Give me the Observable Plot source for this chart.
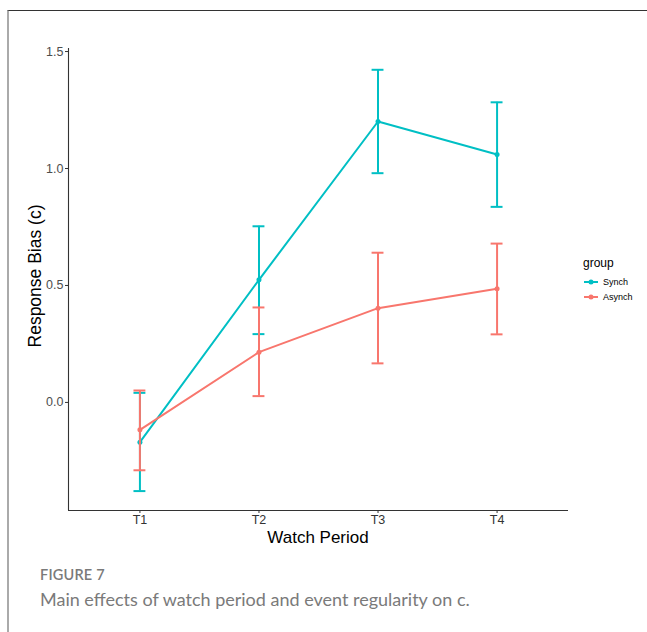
<!DOCTYPE html>
<html><head><meta charset="utf-8">
<script src="https://cdn.jsdelivr.net/npm/d3@7"></script>
<script src="https://cdn.jsdelivr.net/npm/@observablehq/plot@0.6"></script>
<style>
body{margin:0;background:#fff;}
#wrap{position:relative;width:647px;height:632px;overflow:hidden;font-family:"Liberation Sans",Arial,sans-serif;background:#fff;}
#frame{position:absolute;left:7px;top:10px;right:-2px;bottom:-2px;border-top:1px solid #333;border-left:2px solid #aaa;}
#chart{position:absolute;left:0;top:0;}
#ylab{position:absolute;left:35px;top:276px;transform:translate(-50%,-50%) rotate(-90deg);font-size:17.5px;color:#000;white-space:nowrap;}
#xlab{position:absolute;left:318px;top:538px;transform:translate(-50%,-50%);font-size:17px;color:#000;white-space:nowrap;}
#legend{position:absolute;left:583px;top:256px;font-size:9px;color:#000;}
#legend .title{font-size:12px;margin-bottom:4px;}
#legend .row{display:flex;align-items:center;height:15px;}
#legend svg{margin-right:4px;}
#fig{position:absolute;left:40px;top:566px;font-family:Lato,"Open Sans",sans-serif;font-size:14.5px;font-weight:600;color:#7a7a7a;letter-spacing:0.2px;}
#cap{position:absolute;left:40px;top:588px;font-family:Lato,"Open Sans",sans-serif;font-size:18px;font-weight:400;color:#7a7a7a;white-space:nowrap;}
</style></head><body>
<div id="wrap">
<div id="frame"></div>
<div id="chart"></div>
<div id="ylab">Response Bias (c)</div>
<div id="xlab">Watch Period</div>
<div id="legend"></div>
<div id="fig">FIGURE 7</div>
<div id="cap">Main effects of watch period and event regularity on c.</div>
</div>
<script>
const periods = ["T1", "T2", "T3", "T4"];
const groups = ["Synch", "Asynch"];
const synchMean  = [-0.170, 0.524, 1.201, 1.060];
const synchLower = [-0.379, 0.292, 0.980, 0.836];
const synchUpper = [ 0.041, 0.753, 1.422, 1.283];
const asynchMean  = [-0.117, 0.215, 0.403, 0.486];
const asynchLower = [-0.290, 0.027, 0.167, 0.291];
const asynchUpper = [ 0.051, 0.406, 0.640, 0.679];
const yTicks = [0, 0.5, 1.0, 1.5];
const colors = ["#00BFC4", "#F8766D"];

const xDomain = [0.4, 4.6];
const yDomain = [-0.462, 1.513];
const capHalf = 0.05;

const series = {
  Synch: {mean: synchMean, lower: synchLower, upper: synchUpper},
  Asynch: {mean: asynchMean, lower: asynchLower, upper: asynchUpper}
};
const rowsFor = g => periods.map((p, i) => ({
  group: g, period: p, xi: i + 1,
  mean: series[g].mean[i], lower: series[g].lower[i], upper: series[g].upper[i]
}));

const groupMarks = groups.flatMap(g => {
  const rows = rowsFor(g);
  return [
    Plot.ruleX(rows, {x: "xi", y1: "lower", y2: "upper", stroke: "group", strokeWidth: 2}),
    Plot.ruleY(rows, {y: "upper", x1: d => d.xi - capHalf, x2: d => d.xi + capHalf, stroke: "group", strokeWidth: 2}),
    Plot.ruleY(rows, {y: "lower", x1: d => d.xi - capHalf, x2: d => d.xi + capHalf, stroke: "group", strokeWidth: 2}),
    Plot.line(rows, {x: "xi", y: "mean", stroke: "group", strokeWidth: 2}),
    Plot.dot(rows, {x: "xi", y: "mean", fill: "group", r: 2.5})
  ];
});

const chart = Plot.plot({
  width: 647, height: 550,
  marginLeft: 68, marginRight: 79, marginTop: 48, marginBottom: 40,
  style: {fontFamily: '"Liberation Sans", Arial, sans-serif', background: "transparent"},
  x: {type: "linear", domain: xDomain, axis: null},
  y: {domain: yDomain, axis: null},
  color: {domain: groups, range: colors},
  marks: [
    Plot.axisY({ticks: yTicks, tickFormat: d3.format(".1f"), tickSize: 3, tickPadding: 2, fontSize: 12.5, stroke: "#333", fill: "#4d4d4d", label: null}),
    Plot.axisX({ticks: [1, 2, 3, 4], tickFormat: i => periods[i - 1], tickSize: 3, tickPadding: 2, fontSize: 12.5, stroke: "#333", fill: "#333", label: null}),
    Plot.ruleX([xDomain[0]], {stroke: "#333", strokeWidth: 1.1}),
    Plot.ruleY([yDomain[0]], {stroke: "#333", strokeWidth: 1.1}),
    ...groupMarks
  ]
});
document.getElementById("chart").appendChild(chart);

const legend = document.getElementById("legend");
legend.innerHTML = '<div class="title">group</div>' + groups.map((g, i) =>
  `<div class="row"><svg width="16" height="10"><line x1="1" x2="15" y1="5" y2="5" stroke="${colors[i]}" stroke-width="2"/><circle cx="8" cy="5" r="2.5" fill="${colors[i]}"/></svg><span>${g}</span></div>`
).join("");
</script>
</body></html>
